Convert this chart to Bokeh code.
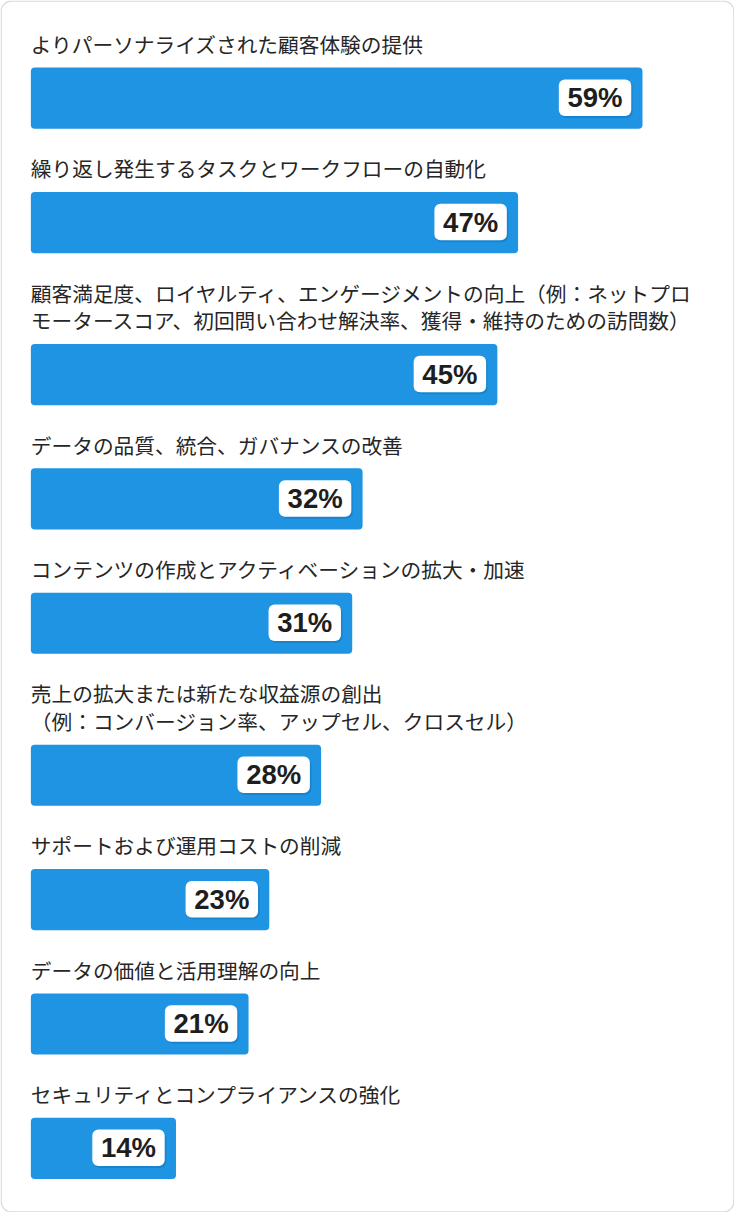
from bokeh.plotting import figure
from bokeh.models import Range1d, ColumnDataSource
from bokeh.core.properties import value
from bokeh.embed import file_html
from bokeh.resources import INLINE

# ---- data ----
categories = [
    "よりパーソナライズされた顧客体験の提供",
    "繰り返し発生するタスクとワークフローの自動化",
    "顧客満足度、ロイヤルティ、エンゲージメントの向上（例：ネットプロ\nモータースコア、初回問い合わせ解決率、獲得・維持のための訪問数）",
    "データの品質、統合、ガバナンスの改善",
    "コンテンツの作成とアクティベーションの拡大・加速",
    "売上の拡大または新たな収益源の創出\n（例：コンバージョン率、アップセル、クロスセル）",
    "サポートおよび運用コストの削減",
    "データの価値と活用理解の向上",
    "セキュリティとコンプライアンスの強化",
]
values = [59, 47, 45, 32, 31, 28, 23, 21, 14]
value_labels = [f"{v}%" for v in values]

# ---- layout / style (layout units = reference pixels; ranges scale to figure) ----
W, H = 734, 1212
REF_W, REF_H = 750, 1228
PX_PER_UNIT = 10.593          # reference px per percentage point
X0 = 31                       # reference px of bar start
FIRST_LABEL = 44
LINE_H = 28
LABEL_TO_BAR = 24
BAR_H = 62
GAP_AFTER_BAR = 40
BAR_COLOR = "#1e94e3"

p = figure(width=W, height=H, output_backend="svg", toolbar_location=None,
           x_range=Range1d(-X0 / PX_PER_UNIT, (REF_W - X0) / PX_PER_UNIT),
           y_range=Range1d(REF_H, 0), min_border=0)
p.axis.visible = False
p.grid.visible = False
p.outline_line_color = None
p.background_fill_color = "white"
p.border_fill_color = "white"

# outer rounded frame
p.quad(left=[p.x_range.start + 0.7 / PX_PER_UNIT], right=[p.x_range.end - 0.7 / PX_PER_UNIT],
       top=[0.7], bottom=[REF_H - 0.7], fill_color=None, line_color="#dadada", line_width=1.2,
       border_radius=10)

lab_x, lab_y, lab_t = [], [], []
bar_y = []
y = FIRST_LABEL
for cat in categories:
    lines = cat.split("\n")
    for i, ln in enumerate(lines):
        lab_x.append(0)
        lab_y.append(y + i * LINE_H)
        lab_t.append(ln)
    top = y + (len(lines) - 1) * LINE_H + LABEL_TO_BAR
    bar_y.append(top + BAR_H / 2)
    y = top + BAR_H + GAP_AFTER_BAR

bars = ColumnDataSource(dict(y=bar_y, v=values, lab=value_labels))
p.hbar(y="y", left=0, right="v", height=BAR_H, source=bars,
       fill_color=BAR_COLOR, line_color=None, border_radius=4)

# value badges
box_w = 74 / PX_PER_UNIT
pad_r = 11.5 / PX_PER_UNIT
right = [v - pad_r for v in values]
left = [r - box_w for r in right]
badge = ColumnDataSource(dict(
    l=left, r=right, t=[c - BAR_H / 2 + 12 for c in bar_y], b=[c + BAR_H / 2 - 13 for c in bar_y],
    ls=[x + 1.5 / PX_PER_UNIT for x in left], rs=[x + 1.5 / PX_PER_UNIT for x in right],
    ts=[c - BAR_H / 2 + 14 for c in bar_y], bs=[c + BAR_H / 2 - 11 for c in bar_y],
    xc=[(a + b) / 2 for a, b in zip(left, right)], yc=[c - 0.5 for c in bar_y], lab=value_labels))
p.quad(left="ls", right="rs", top="ts", bottom="bs", source=badge,
       fill_color="#1572b3", fill_alpha=0.45, line_color=None, border_radius=6)
p.quad(left="l", right="r", top="t", bottom="b", source=badge,
       fill_color="white", line_color=None, border_radius=6)
p.text(x="xc", y="yc", text="lab", source=badge, text_font=value("Liberation Sans"),
       text_font_style="bold", text_font_size="27.5px", text_color="#1e1e1e",
       text_align="center", text_baseline="middle")

# category labels
p.text(x=lab_x, y=lab_y, text=lab_t, text_font=value("Noto Sans CJK JP"),
       text_font_size="20.7px", text_color="#262626", text_align="left",
       text_baseline="middle")

open("out.html", "w").write(file_html(p, INLINE))
